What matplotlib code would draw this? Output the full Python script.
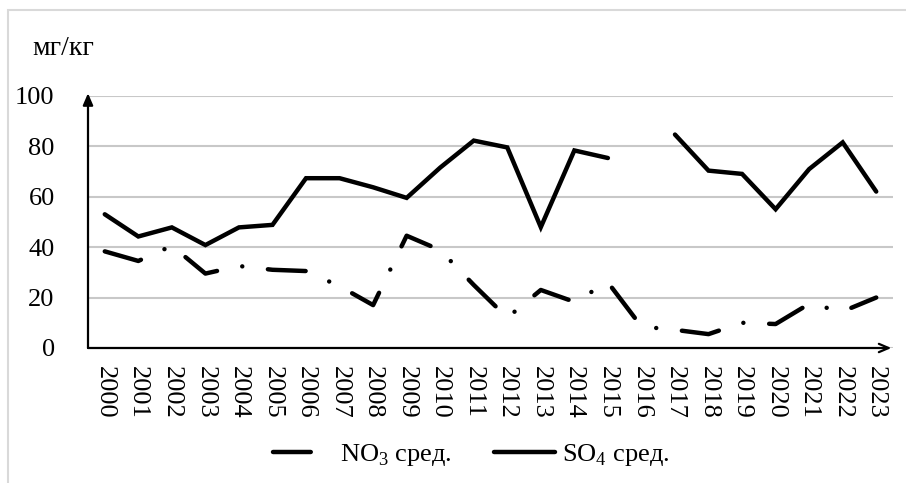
import numpy as np
import matplotlib.pyplot as plt
from matplotlib.patches import Rectangle

# Данные (мг/кг)
years = [str(y) for y in range(2000, 2024)]
no3 = [38.3, 34.5, 40.5, 29.5, 32.5, 31.0, 30.5, 24.5, 17.0, 44.5, 38.8, 25.0,
       12.0, 23.0, 18.3, 26.0, 8.5, 7.2, 5.5, 10.0, 9.5, 17.5, 14.5, 20.0]
so4 = [53.0, 44.2, 47.8, 40.8, 47.8, 48.8, 67.3, 67.3, 63.7, 59.5, 71.5, 82.2,
       79.5, 47.9, 78.3, 75.3, np.nan, 84.6, 70.3, 69.0, 55.0, 70.9, 81.5, 62.0]
y_ticks = [0, 20, 40, 60, 80, 100]

plt.rcParams['font.family'] = ['Liberation Serif', 'DejaVu Serif']
plt.rcParams['mathtext.fontset'] = 'custom'
plt.rcParams['mathtext.rm'] = 'Liberation Serif'

fig = plt.figure(figsize=(9.06, 4.83), dpi=100)
ax = fig.add_axes([88 / 906, 1 - 348 / 483, (893 - 88) / 906, (348 - 95.7) / 483])

x = np.arange(len(years))
ax.plot(x, no3, color='black', lw=3.2, linestyle=(0, (8.5, 5.8, 0.01, 5.8)),
        dash_capstyle='round', label='NO$_\\mathrm{3}$ сред.')
ax.plot(x, so4, color='black', lw=3.2, solid_capstyle='round',
        solid_joinstyle='miter', label='SO$_\\mathrm{4}$ сред.')

ax.set_xlim(-0.5, len(years) - 0.5)
ax.set_ylim(0, 100)
ax.set_yticks(y_ticks)
ax.set_xticks(x)
ax.set_xticklabels(years, rotation=-90, fontsize=19)
ax.tick_params(axis='y', length=0, pad=24, labelsize=19)
ax.tick_params(axis='x', length=0, pad=13)
ax.grid(axis='y', color='#c8c8c8', lw=1.5)
ax.set_axisbelow(True)
for s in ['top', 'right', 'left', 'bottom']:
    ax.spines[s].set_visible(False)

# оси со стрелками
ax.annotate('', xy=(0, 1.01), xycoords='axes fraction', xytext=(0, 0),
            arrowprops=dict(arrowstyle='-|>,head_length=0.7,head_width=0.3',
                            color='black', lw=1.6, shrinkA=0, shrinkB=0))
ax.annotate('', xy=(0.998, 0), xycoords='axes fraction', xytext=(0, 0),
            arrowprops=dict(arrowstyle='->,head_length=0.7,head_width=0.3',
                            color='black', lw=1.6, shrinkA=0, shrinkB=0))

fig.text(32 / 906, 1 - 55 / 483, 'мг/кг', fontsize=20, ha='left', va='baseline')

ax.legend(loc='center', bbox_to_anchor=(0.476, -0.424),
          bbox_transform=ax.transAxes, ncol=2, frameon=False, fontsize=19,
          handlelength=2.3, handletextpad=0.25, columnspacing=1.6)

# рамка диаграммы
fig.patches.append(Rectangle((8 / 906, -0.1), 1.2, 1.1 - 10 / 483, transform=fig.transFigure,
                             fill=False, edgecolor='#d9d9d9', lw=1.5))

fig.savefig('out.png', dpi=100)
